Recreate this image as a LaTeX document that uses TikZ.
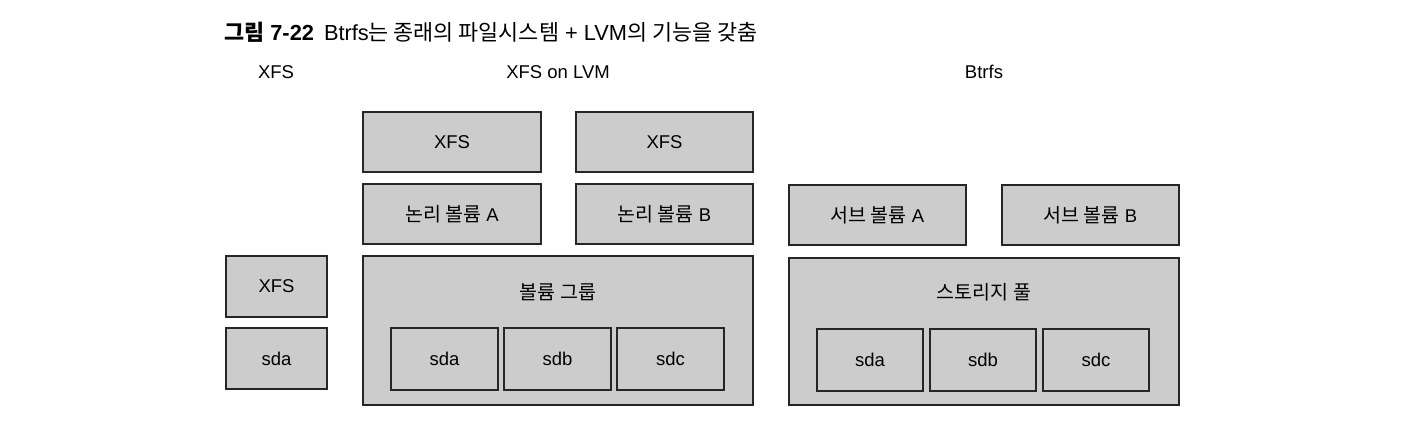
\documentclass[tikz,border=0pt]{standalone}
\usepackage{fontspec}
\setmainfont{Liberation Sans}
\newfontfamily\kr{Noto Sans CJK KR}
\newcommand{\K}[1]{{\kr\fontsize{19.5}{22}\selectfont #1}}
\begin{document}
\begin{tikzpicture}[x=1pt,y=-1pt,
  box/.style={draw=black!85,line width=1.3pt,fill=black!20},
  lbl/.style={font=\fontsize{18.5}{22}\selectfont,inner sep=0pt}]
\useasboundingbox (0,0) rectangle (1402,426);
% title
\node[anchor=west,inner sep=0pt,font=\fontsize{21.8}{24}\selectfont] (title) at (224,32) {{\kr\bfseries 그림} \textbf{7-22}\hspace{10pt}Btrfs{\kr 는 종래의 파일시스템} + LVM{\kr 의 기능을 갖춤}};
% headings
\node[lbl] (h1) at (276,72) {XFS};
\node[lbl] (h2) at (558,72) {XFS on LVM};
\node[lbl] (h3) at (984,72) {Btrfs};
% left
\draw[box] (226,256) rectangle (327,317) node[midway,lbl] (x1) {XFS};
\draw[box] (226,328) rectangle (327,389) node[midway,lbl] (s1) {sda};
% LVM
\draw[box] (363,112) rectangle (541,172) node[midway,lbl] (x2) {XFS};
\draw[box] (576,112) rectangle (753,172) node[midway,lbl] (x3) {XFS};
\draw[box] (363,184) rectangle (541,244) node[midway,lbl] (lva) {\K{논리 볼륨} A};
\draw[box] (576,184) rectangle (753,244) node[midway,lbl] (lvb) {\K{논리 볼륨} B};
\draw[box] (363,256) rectangle (753,405);
\node[lbl] (vg) at (558,292) {\K{볼륨 그룹}};
\draw[box] (391,328) rectangle (498,390) node[midway,lbl] (s2) {sda};
\draw[box] (504,328) rectangle (611,390) node[midway,lbl] (s3) {sdb};
\draw[box] (617,328) rectangle (724,390) node[midway,lbl] (s4) {sdc};
% Btrfs
\draw[box] (789,185) rectangle (966,245) node[midway,lbl] (sva) {\K{서브 볼륨} A};
\draw[box] (1002,185) rectangle (1179,245) node[midway,lbl] (svb) {\K{서브 볼륨} B};
\draw[box] (789,258) rectangle (1179,405);
\node[lbl] (sp) at (984,292) {\K{스토리지 풀}};
\draw[box] (817,329) rectangle (923,391) node[midway,lbl] (s5) {sda};
\draw[box] (930,329) rectangle (1036,391) node[midway,lbl] (s6) {sdb};
\draw[box] (1043,329) rectangle (1149,391) node[midway,lbl] (s7) {sdc};
\end{tikzpicture}
\end{document}
